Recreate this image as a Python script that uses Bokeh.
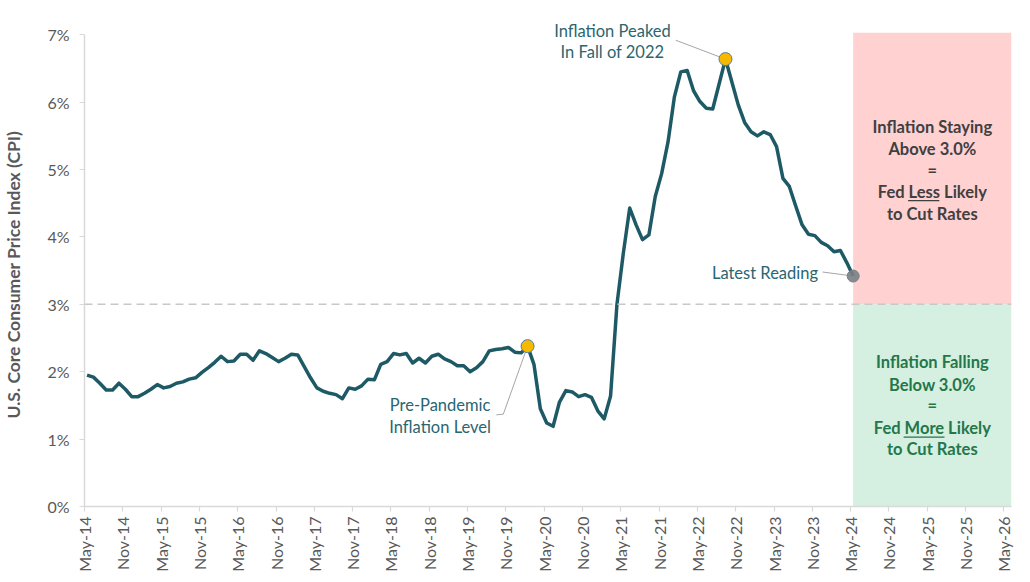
import math
from bokeh.plotting import figure
from bokeh.models import Range1d, Span, Label, FixedTicker, ColumnDataSource
from bokeh.embed import file_html
from bokeh.resources import INLINE

# ---- data ----
# Monthly U.S. core CPI, year-over-year %, May-2014 .. May-2024
core_cpi = [
    1.95, 1.92, 1.83, 1.73, 1.73, 1.83, 1.74, 1.63, 1.63, 1.68, 1.74, 1.81,   # May-14 .. Apr-15
    1.76, 1.78, 1.83, 1.85, 1.89, 1.91, 1.99, 2.06, 2.14, 2.23, 2.15, 2.16,   # May-15 .. Apr-16
    2.26, 2.26, 2.17, 2.31, 2.27, 2.21, 2.15, 2.20, 2.26, 2.25, 2.08, 1.91,   # May-16 .. Apr-17
    1.76, 1.71, 1.68, 1.66, 1.60, 1.76, 1.74, 1.79, 1.89, 1.88, 2.11, 2.15,   # May-17 .. Apr-18
    2.27, 2.25, 2.27, 2.13, 2.20, 2.13, 2.23, 2.26, 2.19, 2.15, 2.09, 2.09,   # May-18 .. Apr-19
    2.00, 2.06, 2.15, 2.31, 2.33, 2.34, 2.36, 2.29, 2.28, 2.38, 2.11, 1.45,   # May-19 .. Apr-20
    1.24, 1.19, 1.55, 1.72, 1.70, 1.63, 1.66, 1.62, 1.42, 1.30, 1.64, 3.00,   # May-20 .. Apr-21
    3.76, 4.43, 4.18, 3.96, 4.03, 4.60, 4.94, 5.41, 6.08, 6.45, 6.47, 6.17,   # May-21 .. Apr-22
    6.01, 5.91, 5.90, 6.27, 6.64, 6.30, 5.96, 5.70, 5.56, 5.50, 5.56, 5.52,   # May-22 .. Apr-23
    5.34, 4.87, 4.75, 4.46, 4.18, 4.04, 4.02, 3.92, 3.87, 3.78, 3.80, 3.62,   # May-23 .. Apr-24
    3.42,                                                                     # May-24
]
month_index = list(range(len(core_cpi)))        # months since May-2014
tick_labels = []
for yr in range(14, 27):
    tick_labels.append(f"May-{yr}")
    if yr < 26:
        tick_labels.append(f"Nov-{yr}")
tick_months = [6 * i for i in range(len(tick_labels))]
y_ticks = [0, 1, 2, 3, 4, 5, 6, 7]
threshold = 3.0
pre_pandemic_idx = 69   # Feb-20
peak_idx = 100          # Sep-22
latest_idx = len(core_cpi) - 1

# ---- styling ----
FONT = "Lato"
LINE_C = "#1e5a66"
ANN_C = "#2a6571"
GRAY_TXT = "#595959"
AXIS_C = "#d9d9d9"
MID = 0.4  # data points sit inside their month

xs = [m + MID for m in month_index]
x_end = 145.2
y_top = 7.45

p = figure(width=1022, height=574, x_range=Range1d(0, x_end), y_range=Range1d(0, y_top),
           output_backend="svg", toolbar_location=None,
           min_border_left=82, min_border_right=11, min_border_top=4, min_border_bottom=66)
p.outline_line_color = None
p.xgrid.visible = False
p.ygrid.visible = False
p.background_fill_color = "white"
p.border_fill_color = "white"

# shaded outlook boxes
box_left = xs[latest_idx]
p.quad(left=[box_left], right=[x_end], bottom=[threshold], top=[7.03], fill_color="#ffd1d1",
       line_color=None)
p.quad(left=[box_left], right=[x_end], bottom=[0], top=[threshold], fill_color="#d5efe1",
       line_color=None)

p.add_layout(Span(location=threshold, dimension="width", line_color="#c8c8c8",
                  line_dash="8 5", line_width=1.5))

# series
src = ColumnDataSource(dict(x=xs, y=core_cpi))
p.line("x", "y", source=src, line_color=LINE_C, line_width=3.5, line_join="round")

# leader lines
lc = "#a6a6a6"
p.line([64.5, 65.6, xs[pre_pandemic_idx]], [1.36, 1.37, core_cpi[pre_pandemic_idx]],
       line_color=lc, line_width=1)
p.line([92.6, xs[peak_idx]], [6.92, core_cpi[peak_idx]], line_color=lc, line_width=1)
p.line([115.6, xs[latest_idx]], [3.48, core_cpi[latest_idx]], line_color=lc, line_width=1)

# highlighted points
p.scatter([xs[pre_pandemic_idx], xs[peak_idx]], [core_cpi[pre_pandemic_idx], core_cpi[peak_idx]],
          size=13, fill_color="#f6b900", line_color="#4f7fa8", line_width=1)
p.scatter([xs[latest_idx]], [core_cpi[latest_idx]], size=12, fill_color="#7a7f85",
          line_color="#7a7f85", fill_alpha=0.9)

def lab(x, y, text, color=ANN_C, size="16.5px", bold=False, align="center"):
    p.add_layout(Label(x=x, y=y, text=text, text_font=FONT, text_font_size=size,
                       text_color=color, text_align=align, text_baseline="middle",
                       text_font_style="bold" if bold else "normal"))

lab(82.7, 7.05, "Inflation Peaked")
lab(82.7, 6.74, "In Fall of 2022")
lab(55.7, 1.51, "Pre-Pandemic")
lab(55.7, 1.18, "Inflation Level")
lab(114.9, 3.46, "Latest Reading", align="right")

red_txt = ["Inflation Staying", "Above 3.0%", "=", "Fed Less Likely", "to Cut Rates"]
red_y = [5.63, 5.30, 4.99, 4.67, 4.34]
for t, yy in zip(red_txt, red_y):
    lab(132.8, yy, t, color="#404040", bold=True)
green_txt = ["Inflation Falling", "Below 3.0%", "=", "Fed More Likely", "to Cut Rates"]
green_y = [2.14, 1.81, 1.50, 1.16, 0.85]
for t, yy in zip(green_txt, green_y):
    lab(132.8, yy, t, color="#23774a", bold=True)

# underlines of "Less" / "More"
p.segment(x0=[129.0], x1=[133.9], y0=[4.54], y1=[4.54], line_color="#404040", line_width=1.3)
p.segment(x0=[128.3], x1=[134.7], y0=[1.03], y1=[1.03], line_color="#23774a", line_width=1.3)

# axes
p.yaxis.bounds = (0, 7)
p.yaxis.ticker = FixedTicker(ticks=y_ticks)
p.yaxis.major_label_overrides = {t: f"{t}%" for t in y_ticks}
p.xaxis.ticker = FixedTicker(ticks=tick_months)
p.xaxis.major_label_overrides = {m: l for m, l in zip(tick_months, tick_labels)}
p.xaxis.major_label_orientation = math.pi / 2
for ax in (p.xaxis, p.yaxis):
    ax.axis_line_color = AXIS_C
    ax.axis_line_width = 1.5
    ax.major_tick_line_color = AXIS_C
    ax.major_tick_line_width = 1.2
    ax.major_tick_in = 0
    ax.major_tick_out = 5
    ax.minor_tick_line_color = None
    ax.major_label_text_font = FONT
    ax.major_label_text_font_size = "16px"
    ax.major_label_text_color = GRAY_TXT
p.yaxis.major_label_standoff = 10
p.xaxis.major_label_standoff = 5
# trailing no-break spaces re-centre the title on the 0-7% span of the axis
p.yaxis.axis_label = "U.S. Core Consumer Price Index (CPI)" + "\u00a0" * 9
p.yaxis.axis_label_text_font = FONT
p.yaxis.axis_label_text_font_size = "17.5px"
p.yaxis.axis_label_text_font_style = "bold"
p.yaxis.axis_label_text_color = GRAY_TXT
p.yaxis.axis_label_standoff = 20

open("out.html", "w").write(file_html(p, INLINE))
